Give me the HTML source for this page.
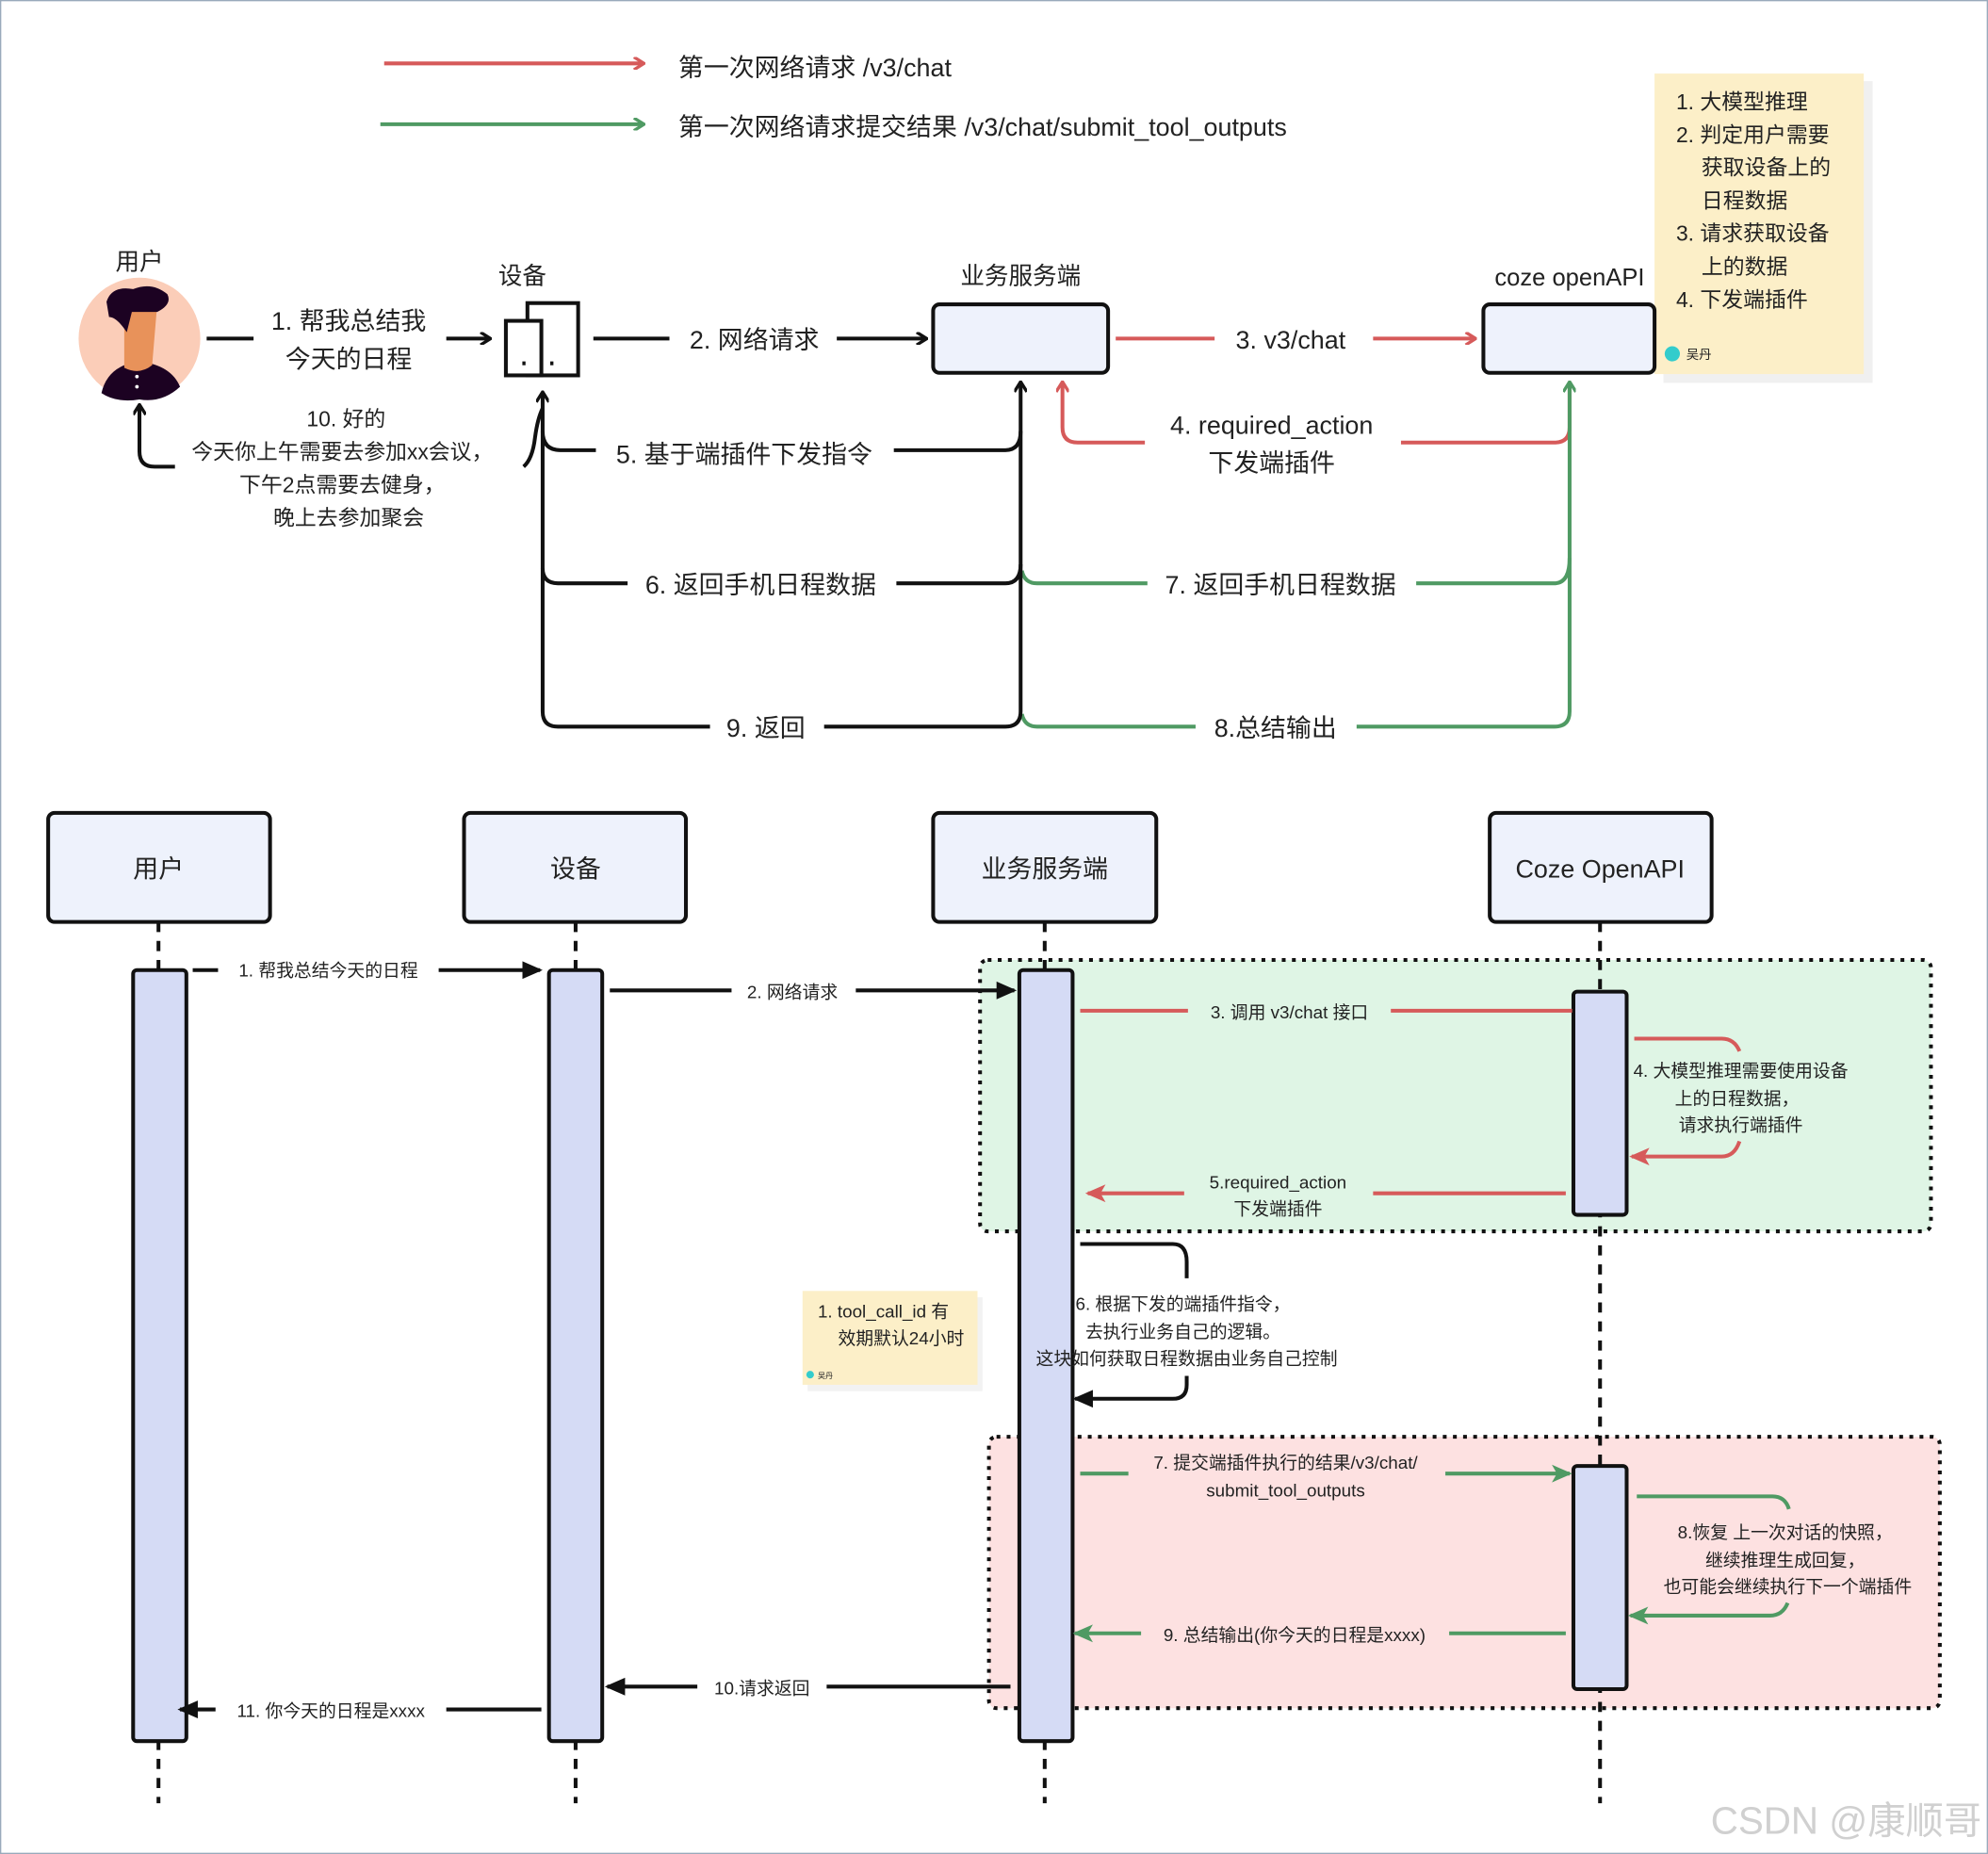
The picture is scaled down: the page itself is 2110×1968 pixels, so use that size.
<!DOCTYPE html>
<html><head><meta charset="utf-8"><style>
html,body{margin:0;padding:0;background:#fff;}
svg{display:block;}
text{font-family:"Liberation Sans","Noto Sans CJK SC",sans-serif;fill:#222;}
</style></head><body>
<svg width="2110" height="1968" viewBox="0 0 1568 1462" preserveAspectRatio="none" xmlns="http://www.w3.org/2000/svg">
<defs>
<marker id="ob" markerWidth="10" markerHeight="10" refX="8" refY="5" orient="auto-start-reverse" markerUnits="userSpaceOnUse"><path d="M1,0 L9,5 L1,10" fill="none" stroke="#111" stroke-width="2.5"/></marker>
<marker id="or" markerWidth="10" markerHeight="10" refX="8" refY="5" orient="auto" markerUnits="userSpaceOnUse"><path d="M1,0 L9,5 L1,10" fill="none" stroke="#d65a5a" stroke-width="2.5"/></marker>
<marker id="og" markerWidth="10" markerHeight="10" refX="8" refY="5" orient="auto-start-reverse" markerUnits="userSpaceOnUse"><path d="M1,0 L9,5 L1,10" fill="none" stroke="#4f9a63" stroke-width="2.5"/></marker>
<marker id="fb" markerWidth="16" markerHeight="16" refX="14" refY="8" orient="auto" markerUnits="userSpaceOnUse"><path d="M0,1 L16,8 L0,15 Z" fill="#111"/></marker>
<marker id="fr" markerWidth="16" markerHeight="16" refX="14" refY="8" orient="auto" markerUnits="userSpaceOnUse"><path d="M0,1 L16,8 L0,15 L4,8 Z" fill="#d65a5a"/></marker>
<marker id="fg" markerWidth="16" markerHeight="16" refX="14" refY="8" orient="auto" markerUnits="userSpaceOnUse"><path d="M0,1 L16,8 L0,15 L4,8 Z" fill="#4f9a63"/></marker>
</defs>
<rect x="0.5" y="0.5" width="1567" height="1461" fill="#fff" stroke="#9ab" stroke-width="1"/>

<line x1="303" y1="50" x2="507" y2="50" stroke="#d65a5a" stroke-width="3" marker-end="url(#or)"/>
<text x="535" y="60" font-size="20">第一次网络请求 /v3/chat</text>
<line x1="300" y1="98" x2="507" y2="98" stroke="#4f9a63" stroke-width="3" marker-end="url(#og)"/>
<text x="535" y="107" font-size="20">第一次网络请求提交结果 /v3/chat/submit_tool_outputs</text>

<rect x="1312" y="64" width="165" height="238" fill="#000" opacity="0.06"/>
<rect x="1305" y="58" width="165" height="237" fill="#fcefc8"/>
<g font-size="17">
<text x="1322" y="86">1. 大模型推理</text>
<text x="1322" y="112">2. 判定用户需要</text>
<text x="1342" y="138">获取设备上的</text>
<text x="1342" y="164">日程数据</text>
<text x="1322" y="190">3. 请求获取设备</text>
<text x="1342" y="216">上的数据</text>
<text x="1322" y="242">4. 下发端插件</text>
</g>
<circle cx="1319" cy="279" r="6" fill="#3cc"/>
<text x="1330" y="283" font-size="10">吴丹</text>

<text x="110" y="213" font-size="19" text-anchor="middle">用户</text>
<circle cx="110" cy="267" r="48" fill="#fbcdb8"/>
<path d="M80,310 Q85,288 110,285 Q135,288 142,305 Q128,318 110,315 Q92,318 80,310Z" fill="#1c0222"/>
<path d="M98,258 L98,290 Q110,296 120,288 L124,240 L100,240Z" fill="#e8925a"/>
<path d="M84,238 Q88,225 105,228 Q120,222 132,232 Q136,240 124,246 L104,246 L100,262 Q92,250 86,250Z" fill="#1c0222"/>
<circle cx="108" cy="297" r="1.4" fill="#fff"/><circle cx="108" cy="305" r="1.4" fill="#fff"/>

<line x1="163" y1="267" x2="200" y2="267" stroke="#111" stroke-width="3"/>
<text x="275" y="260" font-size="20" text-anchor="middle">1. 帮我总结我</text>
<text x="275" y="290" font-size="20" text-anchor="middle">今天的日程</text>
<line x1="352" y1="267" x2="386" y2="267" stroke="#111" stroke-width="3" marker-end="url(#ob)"/>

<text x="412" y="224" font-size="19" text-anchor="middle">设备</text>
<rect x="416" y="239" width="40" height="57" fill="#fff" stroke="#111" stroke-width="3"/>
<rect x="399" y="253" width="28" height="43" fill="#fff" stroke="#111" stroke-width="3"/>
<rect x="412" y="285" width="2.5" height="3" fill="#111"/><rect x="434" y="285" width="2.5" height="3" fill="#111"/>

<line x1="468" y1="267" x2="528" y2="267" stroke="#111" stroke-width="3"/>
<text x="595" y="275" font-size="20" text-anchor="middle">2. 网络请求</text>
<line x1="660" y1="267" x2="730" y2="267" stroke="#111" stroke-width="3" marker-end="url(#ob)"/>

<text x="805" y="224" font-size="19" text-anchor="middle">业务服务端</text>
<rect x="736" y="240" width="138" height="54" rx="5" fill="#eef2fc" stroke="#111" stroke-width="3"/>
<line x1="880" y1="267" x2="958" y2="267" stroke="#d65a5a" stroke-width="3"/>
<text x="1018" y="275" font-size="20" text-anchor="middle">3. v3/chat</text>
<line x1="1083" y1="267" x2="1163" y2="267" stroke="#d65a5a" stroke-width="3" marker-end="url(#or)"/>
<text x="1238" y="225" font-size="19" text-anchor="middle">coze openAPI</text>
<rect x="1170" y="240" width="135" height="54" rx="5" fill="#eef2fc" stroke="#111" stroke-width="3"/>

<path d="M1238,302 L1238,337 Q1238,349 1226,349 L1105,349" fill="none" stroke="#d65a5a" stroke-width="3"/>
<text x="1003" y="342" font-size="20" text-anchor="middle">4. required_action</text>
<text x="1003" y="372" font-size="20" text-anchor="middle">下发端插件</text>
<path d="M903,349 L850,349 Q838,349 838,337 L838,302" fill="none" stroke="#d65a5a" stroke-width="3" marker-end="url(#or)"/>

<path d="M1238,302 L1238,561 Q1238,573 1226,573 L1070,573" fill="none" stroke="#4f9a63" stroke-width="3" marker-start="url(#og)"/>
<path d="M1238,440 Q1238,460 1226,460 L1117,460" fill="none" stroke="#4f9a63" stroke-width="3"/>
<path d="M905,460 L818,460 Q808,460 806,450" fill="none" stroke="#4f9a63" stroke-width="3"/>
<path d="M943,573 L818,573 Q808,573 806,563" fill="none" stroke="#4f9a63" stroke-width="3"/>
<text x="1010" y="468" font-size="20" text-anchor="middle">7. 返回手机日程数据</text>
<text x="1006" y="581" font-size="20" text-anchor="middle">8.总结输出</text>

<path d="M805,302 L805,561 Q805,573 793,573 L650,573" fill="none" stroke="#111" stroke-width="3" marker-start="url(#ob)"/>
<path d="M805,340 Q805,355 793,355 L705,355" fill="none" stroke="#111" stroke-width="3"/>
<path d="M805,445 Q805,460 793,460 L707,460" fill="none" stroke="#111" stroke-width="3"/>
<text x="587" y="365" font-size="20" text-anchor="middle">5. 基于端插件下发指令</text>
<text x="600" y="468" font-size="20" text-anchor="middle">6. 返回手机日程数据</text>
<text x="604" y="581" font-size="20" text-anchor="middle">9. 返回</text>

<path d="M560,573 L440,573 Q428,573 428,561 L428,310" fill="none" stroke="#111" stroke-width="3" marker-end="url(#ob)"/>
<path d="M470,355 L442,355 Q428,355 428,340" fill="none" stroke="#111" stroke-width="3"/>
<path d="M495,460 L440,460 Q428,460 428,448" fill="none" stroke="#111" stroke-width="3"/>

<path d="M413,368 Q420,362 422,345 Q424,330 428,322" fill="none" stroke="#111" stroke-width="3"/>
<text x="273" y="336" font-size="17" text-anchor="middle">10. 好的</text>
<text x="270" y="362" font-size="17" text-anchor="middle">今天你上午需要去参加xx会议，</text>
<text x="270" y="388" font-size="17" text-anchor="middle">下午2点需要去健身，</text>
<text x="275" y="414" font-size="17" text-anchor="middle">晚上去参加聚会</text>
<path d="M138,368 L122,368 Q110,368 110,356 L110,320" fill="none" stroke="#111" stroke-width="3" marker-end="url(#ob)"/>

<rect x="773" y="757" width="750" height="214" rx="6" fill="#dff5e5" stroke="#111" stroke-width="3" stroke-dasharray="3,5"/>
<rect x="780" y="1133" width="750" height="214" rx="6" fill="#fde1e1" stroke="#111" stroke-width="3" stroke-dasharray="3,5"/>

<g stroke="#111" stroke-width="3" stroke-dasharray="8,7">
<line x1="125" y1="727" x2="125" y2="1422"/>
<line x1="454" y1="727" x2="454" y2="1422"/>
<line x1="824" y1="727" x2="824" y2="1422"/>
<line x1="1262" y1="727" x2="1262" y2="1422"/>
</g>

<g fill="#eef2fc" stroke="#111" stroke-width="3">
<rect x="38" y="641" width="175" height="86" rx="5"/>
<rect x="366" y="641" width="175" height="86" rx="5"/>
<rect x="736" y="641" width="176" height="86" rx="5"/>
<rect x="1175" y="641" width="175" height="86" rx="5"/>
</g>
<g font-size="20" text-anchor="middle">
<text x="125" y="692">用户</text>
<text x="454" y="692">设备</text>
<text x="824" y="692">业务服务端</text>
<text x="1262" y="692">Coze OpenAPI</text>
</g>

<g fill="#d5dbf5" stroke="#111" stroke-width="3">
<rect x="105" y="765" width="42" height="608" rx="3"/>
<rect x="433" y="765" width="42" height="608" rx="3"/>
<rect x="804" y="765" width="42" height="608" rx="3"/>
<rect x="1241" y="782" width="42" height="176" rx="3"/>
<rect x="1241" y="1156" width="42" height="176" rx="3"/>
</g>

<g font-size="14">
<line x1="152" y1="765" x2="172" y2="765" stroke="#111" stroke-width="3"/>
<text x="259" y="770" text-anchor="middle">1. 帮我总结今天的日程</text>
<line x1="346" y1="765" x2="426" y2="765" stroke="#111" stroke-width="3" marker-end="url(#fb)"/>

<line x1="481" y1="781" x2="577" y2="781" stroke="#111" stroke-width="3"/>
<text x="625" y="787" text-anchor="middle">2. 网络请求</text>
<line x1="675" y1="781" x2="800" y2="781" stroke="#111" stroke-width="3" marker-end="url(#fb)"/>

<line x1="852" y1="797" x2="937" y2="797" stroke="#d65a5a" stroke-width="3"/>
<text x="1017" y="803" text-anchor="middle">3. 调用 v3/chat 接口</text>
<line x1="1097" y1="797" x2="1240" y2="797" stroke="#d65a5a" stroke-width="3"/>

<path d="M1289,819 L1358,819 Q1368,819 1372,829" fill="none" stroke="#d65a5a" stroke-width="3"/>
<text x="1373" y="849" text-anchor="middle">4. 大模型推理需要使用设备</text>
<text x="1370" y="871" text-anchor="middle">上的日程数据，</text>
<text x="1373" y="892" text-anchor="middle">请求执行端插件</text>
<path d="M1372,900 Q1368,912 1358,912 L1287,912" fill="none" stroke="#d65a5a" stroke-width="3" marker-end="url(#fr)"/>

<line x1="934" y1="941" x2="858" y2="941" stroke="#d65a5a" stroke-width="3" marker-end="url(#fr)"/>
<text x="1008" y="937" text-anchor="middle">5.required_action</text>
<text x="1008" y="958" text-anchor="middle">下发端插件</text>
<line x1="1083" y1="941" x2="1235" y2="941" stroke="#d65a5a" stroke-width="3"/>

<path d="M852,981 L925,981 Q936,981 936,995 L936,1008" fill="none" stroke="#111" stroke-width="3"/>
<text x="933" y="1033" text-anchor="middle">6. 根据下发的端插件指令，</text>
<text x="933" y="1055" text-anchor="middle">去执行业务自己的逻辑。</text>
<text x="936" y="1076" text-anchor="middle">这块如何获取日程数据由业务自己控制</text>
<path d="M936,1085 L936,1092 Q936,1103 925,1103 L848,1103" fill="none" stroke="#111" stroke-width="3" marker-end="url(#fb)"/>

<line x1="852" y1="1162" x2="890" y2="1162" stroke="#4f9a63" stroke-width="3"/>
<text x="1014" y="1158" text-anchor="middle">7. 提交端插件执行的结果/v3/chat/</text>
<text x="1014" y="1180" text-anchor="middle">submit_tool_outputs</text>
<line x1="1140" y1="1162" x2="1238" y2="1162" stroke="#4f9a63" stroke-width="3" marker-end="url(#fg)"/>

<path d="M1291,1180 L1398,1180 Q1408,1180 1411,1190" fill="none" stroke="#4f9a63" stroke-width="3"/>
<text x="1408" y="1213" text-anchor="middle">8.恢复 上一次对话的快照，</text>
<text x="1408" y="1235" text-anchor="middle">继续推理生成回复，</text>
<text x="1410" y="1256" text-anchor="middle">也可能会继续执行下一个端插件</text>
<path d="M1410,1264 Q1406,1274 1396,1274 L1286,1274" fill="none" stroke="#4f9a63" stroke-width="3" marker-end="url(#fg)"/>

<line x1="900" y1="1288" x2="848" y2="1288" stroke="#4f9a63" stroke-width="3" marker-end="url(#fg)"/>
<text x="1021" y="1294" text-anchor="middle">9. 总结输出(你今天的日程是xxxx)</text>
<line x1="1143" y1="1288" x2="1235" y2="1288" stroke="#4f9a63" stroke-width="3"/>

<line x1="550" y1="1330" x2="479" y2="1330" stroke="#111" stroke-width="3" marker-end="url(#fb)"/>
<text x="601" y="1336" text-anchor="middle">10.请求返回</text>
<line x1="652" y1="1330" x2="797" y2="1330" stroke="#111" stroke-width="3"/>

<line x1="170" y1="1348" x2="142" y2="1348" stroke="#111" stroke-width="3" marker-end="url(#fb)"/>
<text x="261" y="1354" text-anchor="middle">11. 你今天的日程是xxxx</text>
<line x1="352" y1="1348" x2="427" y2="1348" stroke="#111" stroke-width="3"/>
</g>

<rect x="637" y="1023" width="138" height="74" fill="#000" opacity="0.05"/>
<rect x="633" y="1018" width="138" height="74" fill="#fcefc8"/>
<text x="645" y="1039" font-size="14">1. tool_call_id 有</text>
<text x="661" y="1060" font-size="14">效期默认24小时</text>
<circle cx="639" cy="1084" r="3" fill="#3cc"/>
<text x="645" y="1087" font-size="6">吴丹</text>

<text x="1563" y="1446" font-size="30" text-anchor="end" style="fill:#d0d0d0">CSDN @康顺哥</text>
</svg>
</body></html>
